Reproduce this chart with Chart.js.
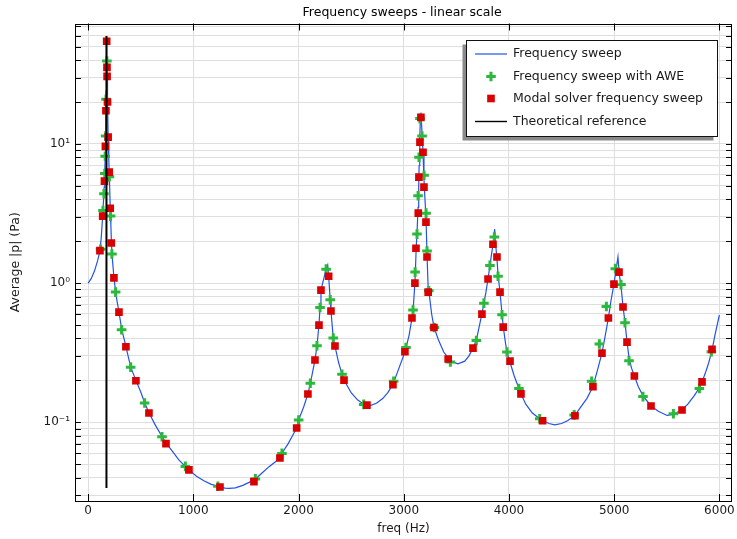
<!DOCTYPE html>
<html>
<head>
<meta charset="utf-8">
<script src="https://cdn.jsdelivr.net/npm/chart.js@4.4.1/dist/chart.umd.min.js"></script>
<style>
  html, body { margin: 0; padding: 0; background: #fff; overflow: hidden; }
  canvas { display: block; }
</style>
</head>
<body>
<canvas id="chart" width="737" height="539"></canvas>
<script>
(function () {
    'use strict';

    const FONT      = 'DejaVu Sans';
    const BLUE      = '#2352e8';
    const GREEN     = '#2cb83c';
    const RED       = '#d90000';
    const GRID      = '#dedede';
    const TEXT      = '#1a1a1a';

    const TITLE_TEXT = 'Frequency sweeps - linear scale';
    const X_TITLE    = 'freq (Hz)';
    const Y_TITLE    = 'Average |p| (Pa)';

    // frequency sweep (blue line)
    const SWEEP_FREQ = [0, 30, 60, 90, 112, 125, 138, 146, 152, 158, 162, 166, 169, 171, 173, 175, 177, 178, 180, 184,
        190, 196, 201, 210, 216, 222, 230, 245, 261, 275, 293, 318, 359, 404, 454, 500, 537, 578, 640, 702,
        740, 800, 860, 924, 958, 1030, 1100, 1170, 1234, 1300, 1340, 1400, 1470, 1530, 1589, 1650, 1720, 1780, 1823, 1842,
        1900, 1950, 1982, 2001, 2050, 2089, 2112, 2156, 2175, 2194, 2204, 2213, 2240, 2262, 2277, 2286, 2301, 2308, 2330, 2346,
        2380, 2413, 2432, 2500, 2560, 2619, 2680, 2740, 2800, 2850, 2897, 2950, 3011, 3050, 3078, 3090, 3106, 3112, 3118, 3126,
        3136, 3142, 3146, 3152, 3158, 3163, 3170, 3176, 3183, 3192, 3200, 3211, 3216, 3221, 3232, 3240, 3265, 3288, 3330, 3380,
        3422, 3443, 3515, 3580, 3620, 3658, 3690, 3720, 3743, 3762, 3780, 3801, 3819, 3848, 3864, 3876, 3886, 3896, 3915, 3934,
        3945, 3965, 3981, 4010, 4050, 4095, 4114, 4160, 4220, 4292, 4320, 4380, 4435, 4500, 4560, 4627, 4680, 4740, 4798, 4840,
        4884, 4915, 4945, 4970, 4998, 5018, 5036, 5046, 5065, 5084, 5103, 5122, 5141, 5165, 5192, 5230, 5274, 5350, 5420, 5502,
        5563, 5645, 5700, 5760, 5810, 5835, 5870, 5900, 5930, 5960, 6000];
    const SWEEP_VAL = [1.0, 1.08, 1.22, 1.45, 1.7, 2.15, 3.05, 3.9, 4.9, 6.2, 8.2, 11.5, 17.5, 24, 38, 59, 52, 40, 31, 20.5,
        11.5, 7.8, 6.0, 3.5, 2.6, 1.9, 1.5, 1.1, 0.87, 0.74, 0.62, 0.47, 0.35, 0.25, 0.2, 0.165, 0.138, 0.117, 0.095, 0.079,
        0.071, 0.062, 0.054, 0.048, 0.0455, 0.041, 0.038, 0.0358, 0.0347, 0.0337, 0.0335, 0.0338, 0.0352, 0.037, 0.039, 0.043, 0.048, 0.052, 0.0555, 0.06,
        0.07, 0.082, 0.091, 0.104, 0.13, 0.16, 0.19, 0.28, 0.355, 0.5, 0.67, 0.89, 1.08, 1.26, 1.35, 1.12, 0.76, 0.63, 0.403, 0.353,
        0.27, 0.221, 0.201, 0.163, 0.145, 0.135, 0.132, 0.137, 0.148, 0.164, 0.187, 0.24, 0.32, 0.42, 0.56, 0.66, 1.0, 1.3, 1.78, 2.3,
        3.5, 4.9, 7.0, 11, 15, 16.8, 13.5, 11, 8.7, 5.6, 4.2, 3.0, 2.2, 1.6, 0.92, 0.86, 0.6, 0.48, 0.39, 0.32,
        0.29, 0.275, 0.263, 0.275, 0.3, 0.34, 0.39, 0.5, 0.6, 0.72, 0.85, 1.07, 1.34, 1.9, 2.44, 1.8, 1.5, 1.15, 0.86, 0.6,
        0.49, 0.38, 0.32, 0.27, 0.215, 0.175, 0.16, 0.135, 0.117, 0.106, 0.103, 0.098, 0.096, 0.098, 0.103, 0.112, 0.128, 0.148, 0.18, 0.235,
        0.314, 0.42, 0.561, 0.75, 0.984, 1.25, 1.54, 1.2, 0.95, 0.68, 0.52, 0.38, 0.29, 0.245, 0.215, 0.18, 0.155, 0.131, 0.12, 0.112,
        0.114, 0.123, 0.135, 0.155, 0.177, 0.195, 0.23, 0.27, 0.33, 0.43, 0.59];

    // frequency sweep with AWE (green crosses)
    const AWE_FREQ = [118, 141, 150, 158, 162, 166, 170, 178, 202, 213, 226, 261, 318, 404, 537, 702, 924, 1234, 1589, 1842,
        2001, 2112, 2175, 2204, 2262, 2301, 2330, 2413, 2619, 2904, 3021, 3088, 3108, 3126, 3136, 3145, 3154, 3174, 3193, 3212,
        3221, 3238, 3290, 3443, 3690, 3762, 3819, 3861, 3896, 3934, 3981, 4095, 4292, 4620, 4786, 4859, 4926, 5011, 5065, 5103,
        5141, 5274, 5563, 5810, 5924];
    const AWE_VAL = [1.75, 3.32, 4.38, 6.12, 8.16, 11.4, 20.9, 39.4, 5.82, 3.03, 1.62, 0.862, 0.462, 0.249, 0.1377, 0.0788, 0.0482, 0.0347, 0.0392, 0.0598,
        0.104, 0.191, 0.355, 0.668, 1.26, 0.759, 0.403, 0.221, 0.1345, 0.197, 0.345, 0.64, 1.2, 2.25, 4.24, 8.03, 15.2, 11.4, 5.96, 3.18,
        1.7, 0.881, 0.48, 0.271, 0.387, 0.718, 1.34, 2.14, 1.12, 0.592, 0.32, 0.175, 0.106, 0.113, 0.197, 0.365, 0.679, 1.27, 0.977, 0.519,
        0.277, 0.153, 0.1153, 0.175, 0.321];

    // modal solver frequency sweep (red squares)
    const MODAL_FREQ = [112, 138, 155, 164, 169, 176, 179, 180, 184, 190, 200, 210, 220, 245, 293, 359, 454, 578, 740, 958,
        1253, 1576, 1823, 1982, 2089, 2156, 2194, 2213, 2286, 2308, 2346, 2432, 2650, 2897, 3011, 3078, 3106, 3116, 3138, 3144,
        3154, 3163, 3183, 3192, 3211, 3221, 3232, 3287, 3422, 3658, 3743, 3801, 3848, 3886, 3915, 3945, 4010, 4114, 4320, 4627,
        4798, 4884, 4945, 4998, 5046, 5084, 5122, 5192, 5350, 5645, 5835, 5930];
    const MODAL_VAL = [1.71, 3.03, 5.4, 9.6, 17.3, 54.6, 35.5, 30.6, 20.0, 11.2, 6.27, 3.45, 1.94, 1.09, 0.619, 0.349, 0.199, 0.1166, 0.0702, 0.0455,
        0.0343, 0.0375, 0.0554, 0.091, 0.1596, 0.28, 0.499, 0.891, 1.12, 0.63, 0.353, 0.201, 0.133, 0.186, 0.321, 0.561, 1.0, 1.78, 3.18, 5.77,
        10.3, 15.5, 8.72, 4.89, 2.74, 1.54, 0.862, 0.48, 0.285, 0.341, 0.599, 1.07, 1.9, 1.54, 0.862, 0.483, 0.275, 0.16, 0.1026, 0.1115,
        0.18, 0.314, 0.561, 0.984, 1.2, 0.673, 0.377, 0.215, 0.131, 0.1225, 0.195, 0.334];

    // theoretical reference (vertical black line)
    const REF_FREQ = [174, 174];
    const REF_VAL  = [0.0337, 59.6];

    const Y_TICKS = [0.03, 0.04, 0.05, 0.06, 0.07, 0.08, 0.09,
        0.1, 0.2, 0.3, 0.4, 0.5, 0.6, 0.7, 0.8, 0.9,
        1, 2, 3, 4, 5, 6, 7, 8, 9,
        10, 20, 30, 40, 50, 60, 70];
    const Y_DECADES      = [0.1, 1, 10];
    const Y_DECADE_TEXTS = ['10\u207B\u00B9', '10\u2070', '10\u00B9'];
    const X_TICKS = [0, 1000, 2000, 3000, 4000, 5000, 6000];

    // plot frame in canvas pixels
    const PLOT = { left: 75, right: 732, top: 23.5, bottom: 501 };

    const pts = (xs, ys) => xs.map((x, i) => ({ x: x, y: ys[i] }));

    // pin the chart area to the frame of the original figure
    const pinAreaPlugin = {
        id: 'pinArea',
        afterLayout(chart) {
            const a = chart.chartArea;
            Object.assign(a, PLOT);
            a.width = PLOT.right - PLOT.left;
            a.height = PLOT.bottom - PLOT.top;
            const xs = chart.scales.x, ys = chart.scales.y;
            xs.left = a.left; xs.right = a.right; xs.width = a.width;
            xs.top = a.bottom; xs.bottom = chart.height; xs.height = chart.height - a.bottom;
            ys.top = a.top; ys.bottom = a.bottom; ys.height = a.height;
            ys.left = 0; ys.right = a.left; ys.width = a.left;
            xs.configure();
            ys.configure();
        }
    };

    const frameTicksPlugin = {
        id: 'frameTicks',
        afterDatasetsDraw(chart) {
            const ctx = chart.ctx;
            const { left, right, top, bottom } = chart.chartArea;
            const xs = chart.scales.x, ys = chart.scales.y;
            ctx.save();
            ctx.strokeStyle = '#000';
            ctx.lineWidth = 1;
            ctx.beginPath();
            Y_TICKS.forEach(v => {
                const y = Math.round(ys.getPixelForValue(v)) + 0.5;
                ctx.moveTo(left, y);  ctx.lineTo(left + 6, y);
                ctx.moveTo(right, y); ctx.lineTo(right - 6, y);
            });
            X_TICKS.forEach(v => {
                const x = Math.round(xs.getPixelForValue(v)) + 0.5;
                ctx.moveTo(x, bottom); ctx.lineTo(x, bottom - 7);
                ctx.moveTo(x, top);    ctx.lineTo(x, top + 7);
            });
            ctx.stroke();
            ctx.strokeRect(Math.round(left) + 0.5, Math.round(top) + 0.5,
                Math.round(right - left) - 1, Math.round(bottom - top) - 1);
            ctx.restore();
        }
    };

    const boxLegendPlugin = {
        id: 'boxLegend',
        afterDraw(chart) {
            const ctx = chart.ctx;
            const bx = 466.5, by = 40.5, bw = 251, bh = 96;
            ctx.save();
            ctx.fillStyle = '#8a8a8a';
            ctx.fillRect(bx - 4, by + 4, bw, bh);
            ctx.fillStyle = '#fff';
            ctx.fillRect(bx, by, bw, bh);
            ctx.strokeStyle = '#111';
            ctx.lineWidth = 1;
            ctx.strokeRect(bx, by, bw, bh);

            ctx.font = '12.5px "' + FONT + '"';
            ctx.textBaseline = 'middle';
            ctx.textAlign = 'left';
            const rows = [54, 76.5, 98.5, 121.5];
            chart.data.datasets.forEach((ds, i) => {
                const y = rows[i];
                if (ds.showLine) {
                    ctx.strokeStyle = ds.borderColor;
                    ctx.lineWidth = ds.legendWidth;
                    ctx.beginPath();
                    ctx.moveTo(475, y); ctx.lineTo(507, y);
                    ctx.stroke();
                } else {
                    ctx.fillStyle = ds.backgroundColor;
                    ctx.strokeStyle = ds.borderColor;
                    ctx.lineWidth = ds.pointBorderWidth;
                    Chart.helpers.drawPoint(ctx, {
                        pointStyle: ds.pointStyle, radius: ds.pointRadius,
                        borderWidth: ds.pointBorderWidth, rotation: 0
                    }, 491, y);
                }
                ctx.fillStyle = TEXT;
                ctx.fillText(ds.label, 513, y);
            });
            ctx.restore();
        }
    };

    const yLabel = (v) => {
        const k = Y_DECADES.findIndex(d => Math.abs(Math.log10(v) - Math.log10(d)) < 1e-6);
        return k >= 0 ? Y_DECADE_TEXTS[k] : '';
    };

    new Chart(document.getElementById('chart').getContext('2d'), {
        type: 'scatter',
        data: {
            datasets: [{
                label: 'Frequency sweep',
                data: pts(SWEEP_FREQ, SWEEP_VAL),
                showLine: true,
                borderColor: BLUE,
                borderWidth: 1.2,
                legendWidth: 1.2,
                pointRadius: 0,
                tension: 0,
                order: 4
            }, {
                label: 'Frequency sweep with AWE',
                data: pts(AWE_FREQ, AWE_VAL),
                pointStyle: 'cross',
                pointRadius: 4.8,
                pointBorderWidth: 3,
                borderColor: GREEN,
                backgroundColor: GREEN,
                order: 3
            }, {
                label: 'Modal solver frequency sweep',
                data: pts(MODAL_FREQ, MODAL_VAL),
                pointStyle: 'rect',
                pointRadius: 5.4,
                pointBorderWidth: 0,
                borderColor: RED,
                backgroundColor: RED,
                order: 2
            }, {
                label: 'Theoretical reference',
                data: pts(REF_FREQ, REF_VAL),
                showLine: true,
                borderColor: '#000',
                borderWidth: 2,
                legendWidth: 1.4,
                pointRadius: 0,
                order: 1
            }]
        },
        plugins: [pinAreaPlugin, frameTicksPlugin, boxLegendPlugin],
        options: {
            responsive: false,
            animation: false,
            layout: { padding: { top: 0, right: 5, bottom: 0, left: 0 } },
            plugins: {
                legend: { display: false },
                tooltip: { enabled: false },
                title: {
                    display: true,
                    text: TITLE_TEXT,
                    fullSize: false,
                    color: '#000',
                    font: { family: FONT, size: 12.5, weight: 'normal' },
                    padding: { top: 5, bottom: 3.5 }
                }
            },
            scales: {
                x: {
                    type: 'linear',
                    min: -125,
                    max: 6120,
                    afterFit: (s) => { s.height = 38; },
                    afterBuildTicks: (s) => { s.ticks = X_TICKS.map(v => ({ value: v })); },
                    border: { display: false },
                    grid: { color: GRID, drawTicks: false, lineWidth: 1 },
                    ticks: {
                        autoSkip: false,
                        maxRotation: 0,
                        padding: 0,
                        color: TEXT,
                        font: { family: FONT, size: 12, lineHeight: 1.72 },
                        callback: (v) => String(v)
                    },
                    title: {
                        display: true,
                        text: X_TITLE,
                        color: TEXT,
                        font: { family: FONT, size: 12 },
                        padding: { top: 0, bottom: 3 }
                    }
                },
                y: {
                    type: 'logarithmic',
                    min: 0.0272,
                    max: 73.3,
                    afterFit: (s) => { s.width = 75; },
                    afterBuildTicks: (s) => { s.ticks = Y_TICKS.map(v => ({ value: v })); },
                    border: { display: false },
                    grid: { color: GRID, drawTicks: false, lineWidth: 1 },
                    ticks: {
                        autoSkip: false,
                        padding: 5,
                        color: TEXT,
                        font: { family: FONT, size: 12 },
                        callback: (v) => yLabel(v)
                    },
                    title: {
                        display: true,
                        text: Y_TITLE,
                        color: TEXT,
                        font: { family: FONT, size: 12.5 },
                        padding: { top: 8, bottom: 0 }
                    }
                }
            }
        }
    });
}());
</script>
</body>
</html>
